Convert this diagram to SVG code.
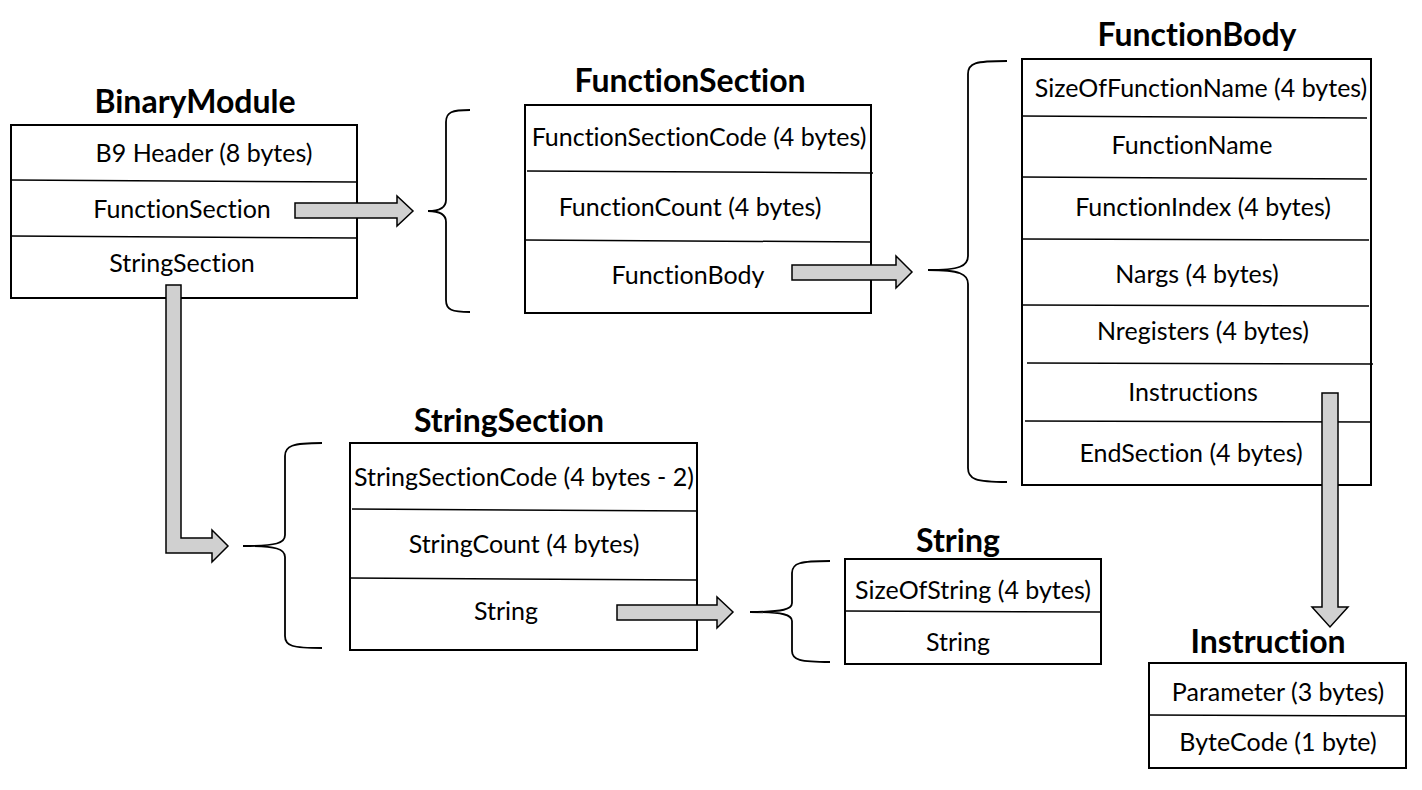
<svg xmlns="http://www.w3.org/2000/svg" width="1422" height="790" viewBox="0 0 1422 790">
<style>
.box{fill:#fff;stroke:#000;stroke-width:2}
.sep{stroke:#000;stroke-width:1.5;fill:none}
.brace{fill:none;stroke:#000;stroke-width:1.8}
.arrow{fill:#d0d0d0;stroke:#000;stroke-width:1.5;stroke-linejoin:miter}
.t{font-family:Lato,"Liberation Sans",sans-serif;font-size:25px;fill:#000;text-anchor:middle;font-variant-ligatures:none}
.h{font-family:Lato,"Liberation Sans",sans-serif;font-size:32px;font-weight:bold;fill:#000;text-anchor:middle;font-variant-ligatures:none}
</style>
<rect width="1422" height="790" fill="#fff"/>

<g id="BinaryModule">
<text class="h" x="195" y="113">BinaryModule</text>
<rect class="box" x="11" y="125" width="346" height="173"/>
<line class="sep" x1="11" y1="180" x2="357" y2="182"/>
<line class="sep" x1="11" y1="236" x2="357" y2="238"/>
<text class="t" x="204" y="162">B9 Header (8 bytes)</text>
<text class="t" x="182" y="218">FunctionSection</text>
<text class="t" x="182" y="272">StringSection</text>
</g>

<g id="FunctionSection">
<text class="h" x="690" y="92">FunctionSection</text>
<path class="brace" d="M470,110 C452,110 446,112 446,122 L446,200 C446,208 440,211 428,211 C440,211 446,214 446,222 L446,300 C446,310 452,312 470,312"/>
<rect class="box" x="525" y="105" width="346" height="208"/>
<line class="sep" x1="527" y1="171" x2="873" y2="173"/>
<line class="sep" x1="525" y1="240" x2="871" y2="242"/>
<text class="t" x="699" y="146">FunctionSectionCode (4 bytes)</text>
<text class="t" x="690" y="216">FunctionCount (4 bytes)</text>
<text class="t" x="688" y="284">FunctionBody</text>
</g>

<g id="FunctionBody">
<text class="h" x="1197" y="46">FunctionBody</text>
<path class="brace" d="M1007,61 C975,61 968,63 968,74 L968,256 C968,266 960,270 928,270 C960,270 968,274 968,284 L968,468 C968,479 975,482 1007,482"/>
<rect class="box" x="1022" y="59" width="349" height="426"/>
<line class="sep" x1="1021" y1="116" x2="1367" y2="118"/>
<line class="sep" x1="1021" y1="177" x2="1367" y2="179"/>
<line class="sep" x1="1022" y1="239" x2="1369" y2="240"/>
<line class="sep" x1="1022" y1="305" x2="1369" y2="306"/>
<line class="sep" x1="1027" y1="363" x2="1373" y2="364"/>
<line class="sep" x1="1025" y1="421" x2="1371" y2="422"/>
<text class="t" x="1201" y="97">SizeOfFunctionName (4 bytes)</text>
<text class="t" x="1192" y="154">FunctionName</text>
<text class="t" x="1203" y="216">FunctionIndex (4 bytes)</text>
<text class="t" x="1197" y="283">Nargs (4 bytes)</text>
<text class="t" x="1203" y="340">Nregisters (4 bytes)</text>
<text class="t" x="1193" y="401">Instructions</text>
<text class="t" x="1191" y="462">EndSection (4 bytes)</text>
</g>

<g id="StringSection">
<text class="h" x="509" y="432">StringSection</text>
<path class="brace" d="M322,443 C292,443 285,446 285,456 L285,535 C285,543 277,546 243,546 C277,546 285,549 285,557 L285,636 C285,646 292,648 322,648"/>
<rect class="box" x="350" y="443" width="347" height="207"/>
<line class="sep" x1="352" y1="509" x2="698" y2="511"/>
<line class="sep" x1="350" y1="578" x2="697" y2="580"/>
<text class="t" x="524" y="486">StringSectionCode (4 bytes - 2)</text>
<text class="t" x="524" y="553">StringCount (4 bytes)</text>
<text class="t" x="506" y="620">String</text>
</g>

<g id="String">
<text class="h" x="958" y="552">String</text>
<path class="brace" d="M830,561 C800,561 792,563 792,573 L792,603 C792,609 784,612 750,612 C784,612 792,615 792,621 L792,651 C792,660 800,662 830,662"/>
<rect class="box" x="845" y="559" width="256" height="105"/>
<line class="sep" x1="845" y1="611" x2="1101" y2="612"/>
<text class="t" x="973" y="599">SizeOfString (4 bytes)</text>
<text class="t" x="958" y="651">String</text>
</g>

<g id="Instruction">
<text class="h" x="1268" y="653">Instruction</text>
<rect class="box" x="1149" y="663" width="257" height="105"/>
<line class="sep" x1="1149" y1="715" x2="1406" y2="716"/>
<text class="t" x="1278" y="701">Parameter (3 bytes)</text>
<text class="t" x="1278" y="751">ByteCode (1 byte)</text>
</g>

<g id="connectors">
<path class="arrow" d="M295,203 L397,203 L397,196 L413,211 L397,226 L397,218 L295,218 Z"/>
<path class="arrow" d="M792,265 L896,265 L896,256 L912,272 L896,288 L896,280 L792,280 Z"/>
<path class="arrow" d="M617,605 L717,605 L717,597 L733,612 L717,628 L717,620 L617,620 Z"/>
<path class="arrow" d="M166,285 L181,285 L181,538 L212,538 L212,530 L228,546 L212,562 L212,553 L166,553 Z"/>
<path class="arrow" d="M1322,393 L1338,393 L1338,607 L1348,607 L1330,627 L1312,607 L1322,607 Z"/>
</g>
</svg>
